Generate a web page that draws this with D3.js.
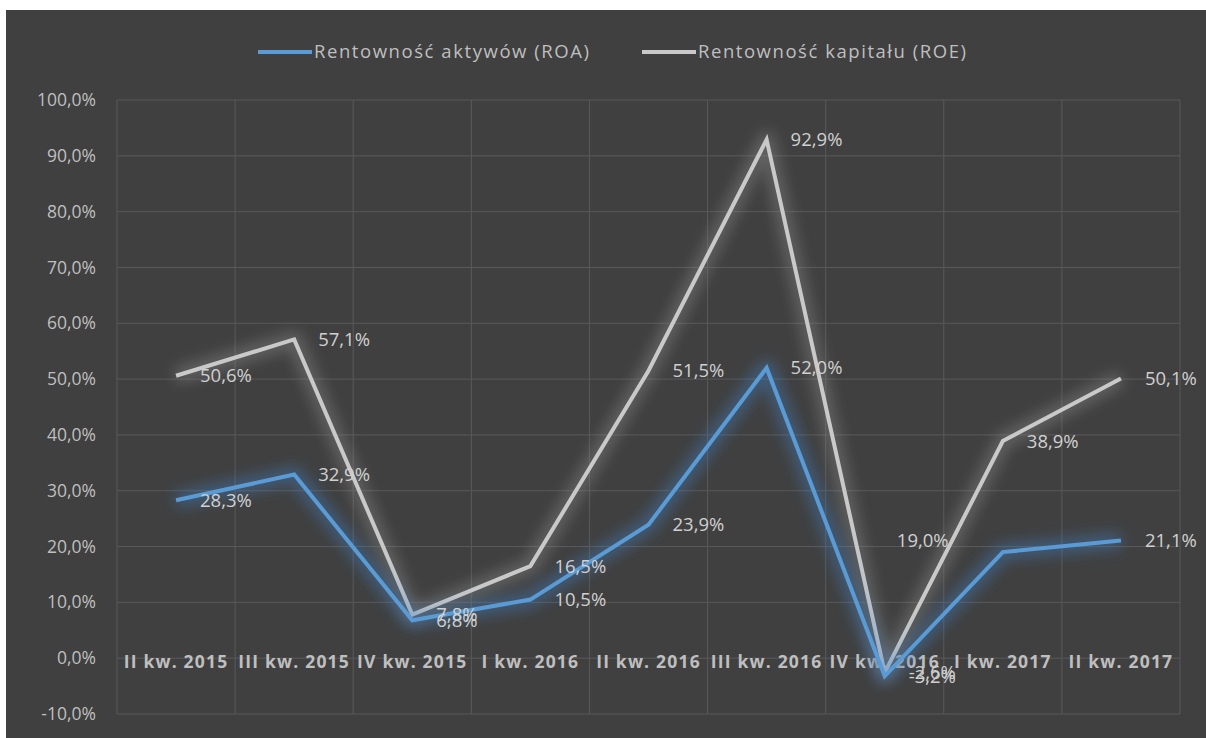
<!DOCTYPE html>
<html>
<head>
<meta charset="utf-8">
<script src="https://cdn.jsdelivr.net/npm/d3@7"></script>
<style>
  html, body { margin: 0; padding: 0; background: #fff; }
  svg { display: block; }
</style>
</head>
<body>
<svg width="1206" height="738"></svg>
<script>
var categories = ['II kw. 2015', 'III kw. 2015', 'IV kw. 2015', 'I kw. 2016', 'II kw. 2016',
  'III kw. 2016', 'IV kw. 2016', 'I kw. 2017', 'II kw. 2017'];
var roa = [28.3, 32.9, 6.8, 10.5, 23.9, 52.0, -3.2, 19.0, 21.1];
var roe = [50.6, 57.1, 7.8, 16.5, 51.5, 92.9, -2.6, 38.9, 50.1];
var seriesNames = ['Rentowność aktywów (ROA)', 'Rentowność kapitału (ROE)'];
var yTicks = [-10, 0, 10, 20, 30, 40, 50, 60, 70, 80, 90, 100];

var svg = d3.select('svg');
var font = '"Open Sans", "DejaVu Sans", sans-serif';

svg.append('rect')
  .attr('x', 6).attr('y', 10)
  .attr('width', 1200).attr('height', 728)
  .attr('fill', '#404040');

var defs = svg.append('defs');
defs.append('filter').attr('id', 'blur')
  .attr('x', '-20%').attr('y', '-20%').attr('width', '140%').attr('height', '140%')
  .append('feGaussianBlur').attr('stdDeviation', 7);

var x = d3.scaleBand()
  .domain(categories)
  .range([117, 1180]);

var y = d3.scaleLinear()
  .domain([-10, 100])
  .range([714, 100]);

var cx = function (i) { return x(categories[i]) + x.bandwidth() / 2; };
var pct = v => d3.format('.1f')(v).replace('.', ',').replace('−', '-') + '%';

// grid
var grid = svg.append('g');
grid.selectAll('line.h')
  .data(yTicks)
  .enter().append('line')
  .attr('x1', 117).attr('x2', 1180)
  .attr('y1', d => y(d)).attr('y2', d => y(d))
  .attr('stroke', '#595959').attr('stroke-width', 1);

grid.selectAll('line.v')
  .data(categories.concat(['end']))
  .enter().append('line')
  .attr('x1', (d, i) => i < categories.length ? x(d) : 1180)
  .attr('x2', (d, i) => i < categories.length ? x(d) : 1180)
  .attr('y1', y(100)).attr('y2', y(-10))
  .attr('stroke', '#595959').attr('stroke-width', 1);

// y axis labels
var yAxis = d3.axisLeft(y)
  .tickValues(yTicks)
  .tickSize(0)
  .tickPadding(0)
  .tickFormat(pct);
svg.append('g')
  .attr('transform', 'translate(96,0)')
  .call(yAxis)
  .call(g => g.select('.domain').remove())
  .selectAll('text')
  .attr('fill', '#bfbfbf')
  .attr('font-family', font)
  .attr('font-size', 17.5);

// x axis labels (at zero line)
var xAxis = d3.axisBottom(x).tickSize(0).tickPadding(0);
svg.append('g')
  .attr('transform', 'translate(0,' + (y(0) - 3) + ')')
  .call(xAxis)
  .call(g => g.select('.domain').remove())
  .selectAll('text')
  .attr('fill', '#bfbfbf')
  .attr('font-family', font)
  .attr('font-weight', 'bold')
  .attr('font-size', 17.5)
  .attr('letter-spacing', 1.2);

var line = d3.line()
  .x((d, i) => cx(i))
  .y(d => y(d));

function series(data, color, glowColor) {
  svg.append('path')
    .datum(data)
    .attr('d', line)
    .attr('fill', 'none')
    .attr('stroke', glowColor)
    .attr('stroke-opacity', 0.45)
    .attr('stroke-width', 16)
    .attr('stroke-linejoin', 'round')
    .attr('filter', 'url(#blur)');
  svg.append('path')
    .datum(data)
    .attr('d', line)
    .attr('fill', 'none')
    .attr('stroke', color)
    .attr('stroke-width', 4);
}
series(roe, '#c9c9c9', '#8a8a8a');
series(roa, '#5b9bd5', '#3f7fc0');

// data labels
function labels(data, cls) {
  svg.append('g').selectAll('text')
    .data(data)
    .enter().append('text')
    .attr('x', (d, i) => cx(i) + (cls === 'roa' && i === 7 ? -106 : 24))
    .attr('y', (d, i) => y(d) + (cls === 'roa' && i === 7 ? -12 : 0))
    .attr('dy', '0.35em')
    .attr('fill', '#d0d0d0')
    .attr('font-family', font)
    .attr('font-size', 18.5)
    .text(pct);
}
labels(roe, 'roe');
labels(roa, 'roa');

// legend
var legend = svg.append('g').attr('font-family', font).attr('font-size', 18.5);
var legX = [258, 642];
var legColors = ['#5b9bd5', '#c9c9c9'];
seriesNames.forEach(function (name, i) {
  legend.append('line')
    .attr('x1', legX[i]).attr('x2', legX[i] + 54)
    .attr('y1', 52).attr('y2', 52)
    .attr('stroke', legColors[i]).attr('stroke-width', 4);
  legend.append('text')
    .attr('x', legX[i] + 56).attr('y', 52)
    .attr('dy', '0.35em')
    .attr('fill', '#bfbfbf')
    .attr('textLength', i === 0 ? 275 : 268)
    .text(name);
});
</script>
</body>
</html>
